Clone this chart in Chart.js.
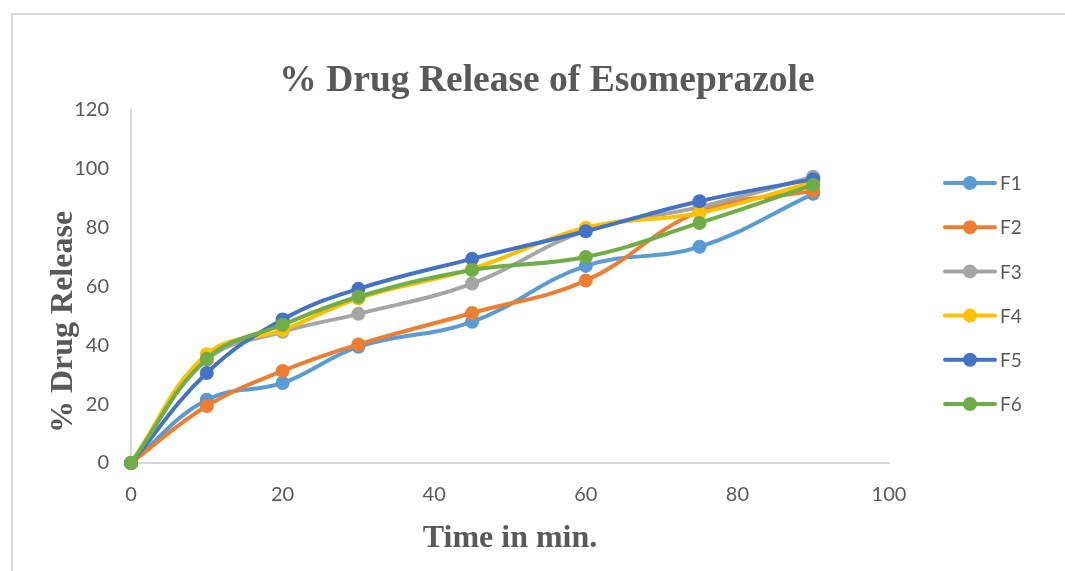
<!DOCTYPE html>
<html>
<head>
<meta charset="utf-8">
<script src="https://cdn.jsdelivr.net/npm/chart.js@4.4.0/dist/chart.umd.min.js"></script>
<style>
  html, body { margin: 0; padding: 0; background: #fff; }
  #wrap { width: 1065px; height: 571px; position: relative; }
</style>
</head>
<body>
<div id="wrap"><canvas id="grafico" width="1065" height="571"></canvas></div>
<script>
"use strict";

// ---- data ----
const tiempos = [0, 10, 20, 30, 45, 60, 75, 90];
const etiquetas = ["F1", "F2", "F3", "F4", "F5", "F6"];
const F1 = [0, 21.5, 27.2, 39.5, 48.0, 67.0, 73.5, 91.5];
const F2 = [0, 19.4, 31.3, 40.3, 51.0, 62.0, 85.5, 92.5];
const F3 = [0, 35.0, 44.6, 50.7, 61.0, 79.0, 87.0, 97.3];
const F4 = [0, 37.0, 45.2, 56.0, 66.0, 80.0, 85.0, 95.5];
const F5 = [0, 30.6, 48.8, 59.2, 69.4, 78.8, 89.0, 96.5];
const F6 = [0, 35.4, 47.0, 56.5, 65.6, 70.0, 81.6, 94.5];
const series = [F1, F2, F3, F4, F5, F6];
const colores = ["#5b9bd5", "#ed7d31", "#a5a5a5", "#ffc000", "#4472c4", "#70ad47"];
const yTicks = [0, 20, 40, 60, 80, 100, 120];
const xTicks = [0, 20, 40, 60, 80, 100];

const gris = "#595959";
const fuenteSerif = "'Liberation Serif', 'Times New Roman', serif";
const fuenteTicks = "Lato, 'Open Sans', sans-serif";

// frame, titles and legend drawn by hand
const decorado = {
  id: "decorado",
  beforeDraw(chart) {
    const ctx = chart.ctx;
    ctx.save();
    ctx.strokeStyle = "#d9d9d9";
    ctx.lineWidth = 2;
    ctx.strokeRect(12, 14, 2000, 2000);
    ctx.restore();
  },
  afterDraw(chart) {
    const ctx = chart.ctx;
    ctx.save();
    ctx.fillStyle = gris;
    ctx.textAlign = "center";
    ctx.textBaseline = "middle";
    ctx.font = "bold 37.5px " + fuenteSerif;
    ctx.fillText("% Drug Release of Esomeprazole", 547, 81);

    ctx.translate(64, 322);
    ctx.rotate(-Math.PI / 2);
    ctx.font = "bold 32px " + fuenteSerif;
    ctx.fillText("% Drug Release", 0, 0);
    ctx.restore();

    // legend
    ctx.save();
    chart.data.datasets.forEach((ds, i) => {
      const y = 183 + i * 44.2;
      ctx.strokeStyle = ds.borderColor;
      ctx.lineWidth = 4;
      ctx.lineCap = "round";
      ctx.beginPath();
      ctx.moveTo(945, y);
      ctx.lineTo(995, y);
      ctx.stroke();
      ctx.fillStyle = ds.borderColor;
      ctx.beginPath();
      ctx.arc(970, y, 7, 0, Math.PI * 2);
      ctx.fill();
      ctx.fillStyle = gris;
      ctx.font = "19px " + fuenteTicks;
      ctx.textAlign = "left";
      ctx.textBaseline = "middle";
      ctx.fillText(ds.label, 1000, y + 1);
    });
    ctx.restore();
  }
};

const datasets = series.map((vals, i) => ({
  label: etiquetas[i],
  data: vals.map((v, k) => ({ x: tiempos[k], y: v })),
  borderColor: colores[i],
  backgroundColor: colores[i],
  borderWidth: 4,
  pointRadius: 7,
  pointHoverRadius: 7,
  pointBorderWidth: 0,
  tension: 0.4,
  clip: false,
  order: series.length - i
}));

new Chart(document.getElementById("grafico"), {
  type: "line",
  data: { datasets },
  plugins: [decorado],
  options: {
    responsive: false,
    animation: false,
    layout: { padding: { top: 110, right: 176, left: 0, bottom: 0 } },
    plugins: {
      legend: { display: false },
      title: { display: false },
      tooltip: { enabled: false }
    },
    scales: {
      x: {
        type: "linear",
        min: 0, max: 100,
        afterBuildTicks: s => { s.ticks = xTicks.map(v => ({ value: v })); },
        afterFit: s => { s.height = 108; },
        grid: { display: false, drawTicks: false },
        border: { display: true, color: "#d9d9d9", width: 2 },
        ticks: { color: gris, font: { family: fuenteTicks, size: 20 }, padding: 20, maxRotation: 0 },
        title: {
          display: true,
          text: "Time in min.",
          color: gris,
          font: { family: fuenteSerif, size: 32, weight: "bold" },
          padding: { top: 0, bottom: 13 }
        }
      },
      y: {
        min: 0, max: 120,
        afterBuildTicks: s => { s.ticks = yTicks.map(v => ({ value: v })); },
        afterFit: s => { s.width = 131; },
        grid: { display: false, drawTicks: false },
        border: { display: true, color: "#d9d9d9", width: 2 },
        ticks: { color: gris, font: { family: fuenteTicks, size: 20 }, padding: 22 }
      }
    }
  }
});
</script>
</body>
</html>
